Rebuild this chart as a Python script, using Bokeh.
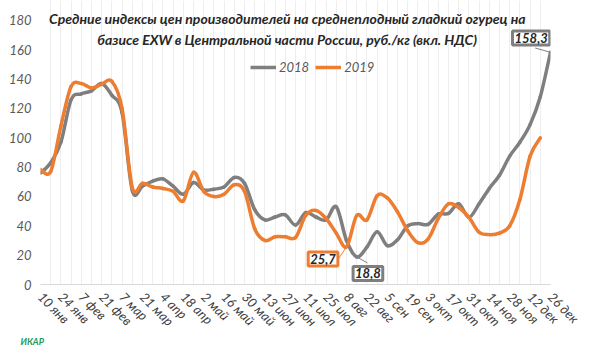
import numpy as np
from bokeh.plotting import figure
from bokeh.models import Range1d, FixedTicker, Label, Legend, LegendItem, ColumnDataSource, Title
from bokeh.embed import file_html
from bokeh.resources import INLINE

tick_labels = ["10 янв", "24 янв", "7 фев", "21 фев", "7 мар", "21 мар", "4 апр", "18 апр",
               "2 май", "16 май", "30 май", "13 июн", "27 июн", "11 июл", "25 июл", "8 авг",
               "22 авг", "5 сен", "19 сен", "3 окт", "17 окт", "31 окт", "14 ноя", "28 ноя",
               "12 дек", "26 дек"]

prices_2018 = [76, 83, 97, 126, 130, 132, 137, 129, 117, 64,
               67, 70.5, 72, 67, 61.5, 69.5, 64.5, 65, 66.5, 73,
               69, 51, 44, 46, 47.5, 40.5, 49, 46, 44, 53,
               30, 18.8, 25.5, 36, 26.5, 30.5, 40, 41.5, 41, 48,
               48.5, 55, 45.8, 55, 65.5, 74.5, 87.5, 97, 109, 128,
               158.3]

prices_2019 = [78.5, 77, 108, 135, 137, 134, 136.5, 138.5, 120, 66,
               69, 66.5, 65.5, 63.5, 57, 76.5, 63.5, 60, 61.5, 68,
               63.5, 38, 30, 32.5, 32.5, 32, 47, 50.5, 45, 35,
               25.7, 47, 44, 60.5, 59, 49.5, 36.7, 28.5, 31, 45,
               55, 52.5, 45.8, 35.6, 34, 35, 40, 58, 87.5, 100]

GRAY = "#7f7f7f"
ORANGE = "#ed7d31"
FONT = "Lato"


def smooth_segments(vals):
    y = np.asarray(vals, dtype=float)
    n = len(y)
    x = np.arange(n, dtype=float)
    k = np.arange(n - 1)
    p0 = np.clip(k - 1, 0, n - 1)
    p3 = np.clip(k + 2, 0, n - 1)
    return dict(
        x0=x[k], y0=y[k], x1=x[k + 1], y1=y[k + 1],
        cx0=x[k] + (x[k + 1] - x[p0]) / 6.0, cy0=y[k] + (y[k + 1] - y[p0]) / 6.0,
        cx1=x[k + 1] - (x[p3] - x[k]) / 6.0, cy1=y[k + 1] - (y[p3] - y[k]) / 6.0,
    )


p = figure(width=600, height=357, output_backend="svg", toolbar_location=None,
           x_range=Range1d(0, 50), y_range=Range1d(0, 193.6),
           min_border_left=40, min_border_right=50, min_border_top=0, min_border_bottom=73)
p.outline_line_color = None
p.background_fill_color = "white"
p.border_fill_color = "white"

for vals, col in ((prices_2018, GRAY), (prices_2019, ORANGE)):
    src = ColumnDataSource(smooth_segments(vals))
    p.bezier(x0="x0", y0="y0", x1="x1", y1="y1", cx0="cx0", cy0="cy0", cx1="cx1", cy1="cy1",
             source=src, line_color=col, line_width=3.5, line_cap="round")

# legend (renderers only provide the swatch)
r18 = p.line(x=[np.nan, np.nan], y=[np.nan, np.nan], line_color=GRAY, line_width=3.5)
r19 = p.line(x=[np.nan, np.nan], y=[np.nan, np.nan], line_color=ORANGE, line_width=3.5)
leg = Legend(items=[LegendItem(label="2018", renderers=[r18]), LegendItem(label="2019", renderers=[r19])],
             orientation="horizontal", location=(210, 209), padding=0, margin=0, spacing=6,
             glyph_width=26, glyph_height=14, label_height=14, label_standoff=3,
             label_text_font=FONT, label_text_font_style="italic", label_text_font_size="13px",
             label_text_color="#595959", background_fill_alpha=0, border_line_color=None)
p.add_layout(leg)

# axes
xa = p.xaxis[0]
xa.ticker = FixedTicker(ticks=list(range(0, 51, 2)))
xa.major_label_overrides = {i * 2: lab for i, lab in enumerate(tick_labels)}
xa.major_label_orientation = -np.pi / 4
xa.major_label_text_font = FONT
xa.major_label_text_font_style = "italic"
xa.major_label_text_font_size = "13px"
xa.major_label_text_color = "#404040"
xa.major_label_standoff = 10
xa.major_tick_out = 0
xa.major_tick_in = 0
xa.axis_label_standoff = 0
xa.axis_line_color = "#d9d9d9"
xa.major_tick_line_color = None
xa.minor_tick_line_color = None

ya = p.yaxis[0]
ya.ticker = FixedTicker(ticks=list(range(0, 181, 20)))
ya.major_label_text_font = FONT
ya.major_label_text_font_style = "italic"
ya.major_label_text_font_size = "13px"
ya.major_label_text_color = "#595959"
ya.major_label_standoff = 9
ya.major_tick_out = 0
ya.major_tick_in = 0
ya.axis_line_color = None
ya.major_tick_line_color = None
ya.minor_tick_line_color = None

p.xgrid.ticker = FixedTicker(ticks=list(range(0, 51)))
p.xgrid.grid_line_color = "#eeeeee"
p.ygrid.grid_line_color = None

# title
for txt, yy in (("Средние индексы цен производителей на среднеплодный гладкий огурец на", 181.0),
                ("базисе EXW в Центральной части России, руб./кг (вкл. НДС)", 167.0)):
    p.add_layout(Label(x=24.2, y=yy, text=txt, text_align="center", text_baseline="middle",
                       text_font=FONT, text_font_style="bold italic", text_font_size="14px",
                       text_color="#262626"))

# data labels
n18 = len(prices_2018) - 1
i_min18 = int(np.argmin(prices_2018))
i_min19 = int(np.argmin(prices_2019))

callouts = [
    (f"{prices_2018[n18]:.1f}".replace(".", ","), GRAY, 48.1, 168.1, n18, prices_2018[n18], 48.5, 161.2),
    (f"{prices_2019[i_min19]:.1f}".replace(".", ","), ORANGE, 27.7, 17.4, i_min19, prices_2019[i_min19], 29.2, 17.4),
    (f"{prices_2018[i_min18]:.1f}".replace(".", ","), GRAY, 32.1, 7.5, i_min18, prices_2018[i_min18], 32.06, 14.7),
]
for txt, col, lx, ly, px, py, ex, ey in callouts:
    p.segment(x0=[ex], y0=[ey], x1=[px], y1=[py], line_color=col, line_width=1)
    p.add_layout(Label(x=lx, y=ly, text=txt, text_align="center", text_baseline="middle",
                       text_font=FONT, text_font_style="bold italic", text_font_size="13px",
                       text_color="#262626", background_fill_color="white",
                       border_line_color=col, border_line_width=3, padding=2))

# logo text
p.add_layout(Title(text="ИКАР", align="left", offset=-20, standoff=-10,
                   text_font=FONT, text_font_style="bold italic", text_font_size="9px",
                   text_color="#1b9a5b"), "below")

open("out.html", "w").write(file_html(p, INLINE))
